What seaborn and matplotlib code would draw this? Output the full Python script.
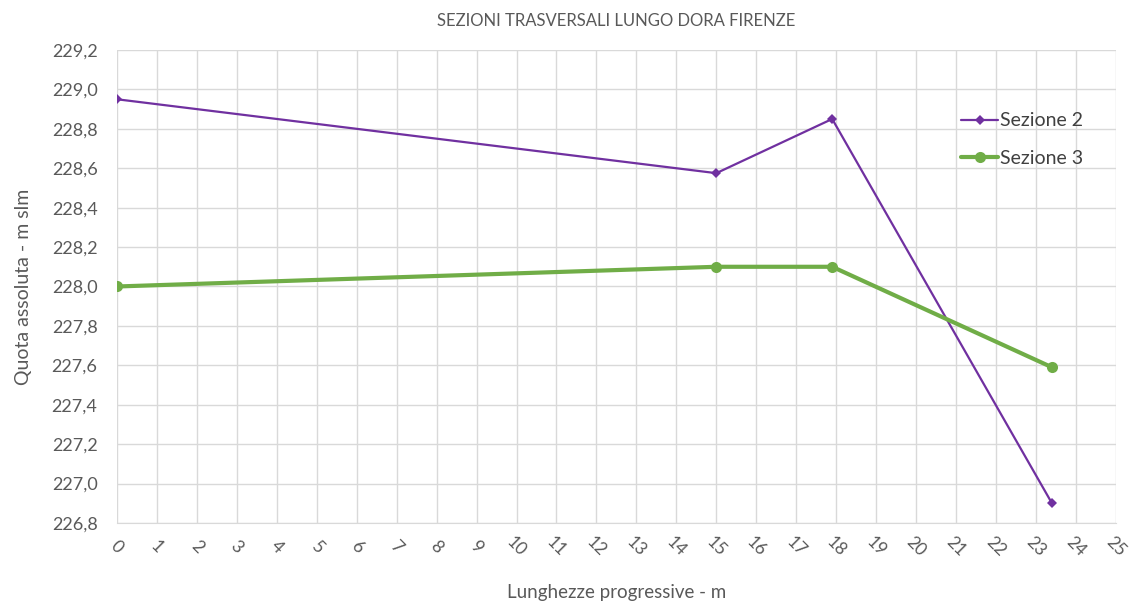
import pandas as pd
import matplotlib.pyplot as plt
import seaborn as sns
from matplotlib.ticker import FuncFormatter, MultipleLocator

# dati
dist_s2 = [0, 15, 17.9, 23.4]
quota_s2 = [228.95, 228.575, 228.85, 226.9]
dist_s3 = [0, 15, 17.9, 23.4]
quota_s3 = [228.0, 228.1, 228.1, 227.59]

df2 = pd.DataFrame({'x': dist_s2, 'y': quota_s2})
df3 = pd.DataFrame({'x': dist_s3, 'y': quota_s3})

sns.set_style('white')
plt.rcParams['font.family'] = ['Lato', 'DejaVu Sans']
grigio = '#595959'

fig = plt.figure(figsize=(11.39, 6.06), dpi=100)
ax = fig.add_axes([0.1027, 0.137, 0.877, 0.7805])

sns.lineplot(data=df2, x='x', y='y', ax=ax, color='#7030A0', lw=1.6,
             marker='D', markersize=5.5, markeredgewidth=0, label='Sezione 2')
sns.lineplot(data=df3, x='x', y='y', ax=ax, color='#70AD47', lw=3,
             marker='o', markersize=8, markeredgewidth=0, label='Sezione 3')

ax.set_xlim(0, 25)
ax.set_ylim(226.8, 229.2)
ax.xaxis.set_major_locator(MultipleLocator(1))
ax.yaxis.set_major_locator(MultipleLocator(0.2))
ax.yaxis.set_major_formatter(FuncFormatter(lambda v, p: f'{v:.1f}'.replace('.', ',')))
ax.xaxis.set_major_formatter(FuncFormatter(lambda v, p: f'{v:.0f}'))
ax.grid(True, color='#D9D9D9', lw=1)
ax.set_axisbelow(True)
for s in ax.spines.values():
    s.set_visible(False)
ax.spines['bottom'].set_visible(True)
ax.spines['bottom'].set_color('#D9D9D9')
ax.tick_params(axis='both', length=0, colors=grigio)
ax.tick_params(axis='x', pad=17, labelsize=12.5)
ax.tick_params(axis='y', pad=14, labelsize=13)
for t in ax.get_xticklabels():
    t.set_rotation(-45)
    t.set_ha('center')
    t.set_va('center')

ax.set_title('SEZIONI TRASVERSALI LUNGO DORA FIRENZE', color=grigio, fontsize=12, pad=17)
ax.set_xlabel('Lunghezze progressive - m', color=grigio, fontsize=13.5)
ax.xaxis.set_label_coords(0.5, -0.13)
ax.set_ylabel('Quota assoluta - m slm', color=grigio, fontsize=14, labelpad=14)

leg = ax.legend(loc='upper right', bbox_to_anchor=(0.985, 0.905), frameon=False,
                fontsize=14, handlelength=1.9, handletextpad=0.1, labelspacing=1.05)
for t in leg.get_texts():
    t.set_color('#404040')

fig.savefig('out.png', dpi=100)
